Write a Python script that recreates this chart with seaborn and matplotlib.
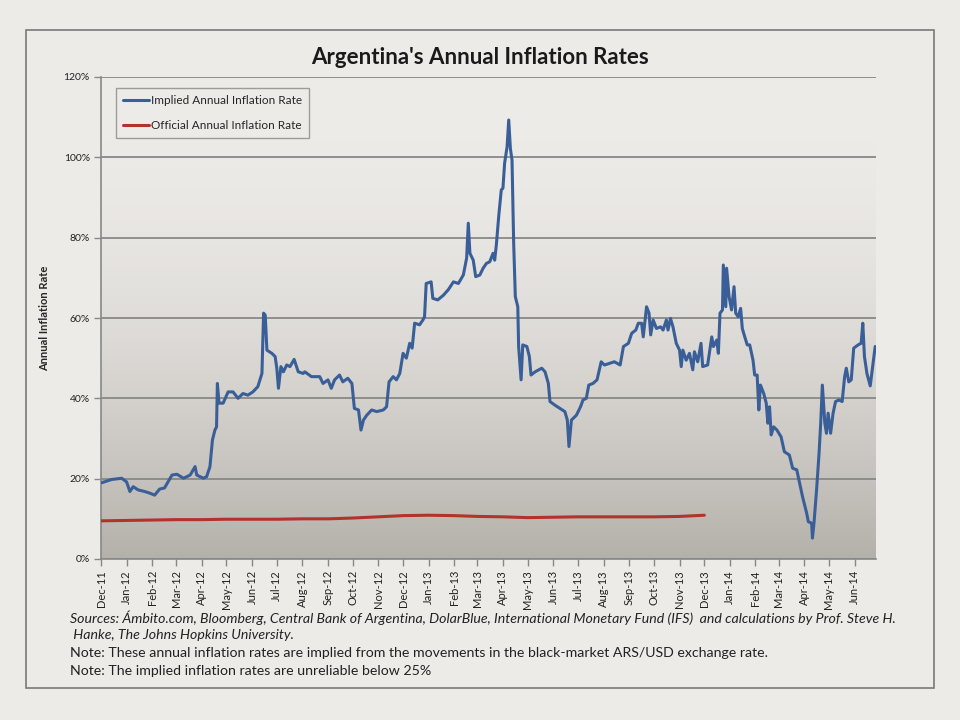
# Argentina's annual inflation rates: implied (black-market FX) vs official

import numpy as np
import pandas as pd
import seaborn as sns
import matplotlib.pyplot as plt
import matplotlib.dates as mdates
from matplotlib.patches import Rectangle

# Implied annual inflation rate (%)
implied_dates = [
    '2011-12-02', '2011-12-14', '2011-12-26', '2012-01-01', '2012-01-05', '2012-01-09',
    '2012-01-15', '2012-01-23', '2012-01-29', '2012-02-04', '2012-02-10', '2012-02-16',
    '2012-02-25', '2012-03-02', '2012-03-10', '2012-03-18', '2012-03-24', '2012-03-26',
    '2012-04-03', '2012-04-07', '2012-04-11', '2012-04-14', '2012-04-17', '2012-04-19',
    '2012-04-20', '2012-04-22', '2012-04-27', '2012-05-03', '2012-05-09', '2012-05-15',
    '2012-05-21', '2012-05-27', '2012-06-02', '2012-06-08', '2012-06-13', '2012-06-15',
    '2012-06-17', '2012-06-19', '2012-06-25', '2012-06-29', '2012-07-01', '2012-07-03',
    '2012-07-06', '2012-07-09', '2012-07-13', '2012-07-17', '2012-07-22', '2012-07-27',
    '2012-08-02', '2012-08-04', '2012-08-12', '2012-08-22', '2012-08-26', '2012-09-01',
    '2012-09-05', '2012-09-09', '2012-09-15', '2012-09-19', '2012-09-25', '2012-09-30',
    '2012-10-03', '2012-10-08', '2012-10-11', '2012-10-14', '2012-10-18', '2012-10-24',
    '2012-10-30', '2012-11-07', '2012-11-11', '2012-11-14', '2012-11-19', '2012-11-23',
    '2012-11-27', '2012-12-01', '2012-12-05', '2012-12-09', '2012-12-12', '2012-12-15',
    '2012-12-21', '2012-12-25', '2012-12-27', '2012-12-29', '2013-01-04', '2013-01-06',
    '2013-01-12', '2013-01-19', '2013-01-25', '2013-01-31', '2013-02-06', '2013-02-12',
    '2013-02-16', '2013-02-18', '2013-02-20', '2013-02-24', '2013-02-27', '2013-03-04',
    '2013-03-08', '2013-03-12', '2013-03-16', '2013-03-20', '2013-03-22', '2013-03-24',
    '2013-03-27', '2013-03-30', '2013-04-01', '2013-04-03', '2013-04-06', '2013-04-08',
    '2013-04-10', '2013-04-12', '2013-04-14', '2013-04-16', '2013-04-19', '2013-04-20',
    '2013-04-23', '2013-04-25', '2013-04-30', '2013-05-03', '2013-05-05', '2013-05-10',
    '2013-05-18', '2013-05-22', '2013-05-26', '2013-05-28', '2013-06-03', '2013-06-09',
    '2013-06-15', '2013-06-18', '2013-06-20', '2013-06-23', '2013-06-29', '2013-07-04',
    '2013-07-07', '2013-07-11', '2013-07-14', '2013-07-19', '2013-07-24', '2013-07-29',
    '2013-08-02', '2013-08-08', '2013-08-14', '2013-08-21', '2013-08-25', '2013-08-31',
    '2013-09-04', '2013-09-09', '2013-09-12', '2013-09-16', '2013-09-18', '2013-09-22',
    '2013-09-25', '2013-09-27', '2013-09-30', '2013-10-04', '2013-10-09', '2013-10-12',
    '2013-10-16', '2013-10-18', '2013-10-21', '2013-10-24', '2013-10-28', '2013-11-01',
    '2013-11-03', '2013-11-05', '2013-11-09', '2013-11-13', '2013-11-17', '2013-11-19',
    '2013-11-23', '2013-11-27', '2013-11-29', '2013-12-05', '2013-12-10', '2013-12-12',
    '2013-12-16', '2013-12-18', '2013-12-20', '2013-12-23', '2013-12-24', '2013-12-27',
    '2013-12-28', '2013-12-31', '2014-01-03', '2014-01-06', '2014-01-08', '2014-01-11',
    '2014-01-14', '2014-01-16', '2014-01-19', '2014-01-22', '2014-01-25', '2014-01-29',
    '2014-01-31', '2014-02-03', '2014-02-05', '2014-02-07', '2014-02-11', '2014-02-14',
    '2014-02-16', '2014-02-18', '2014-02-20', '2014-02-23', '2014-02-27', '2014-03-04',
    '2014-03-08', '2014-03-14', '2014-03-18', '2014-03-23', '2014-03-27', '2014-03-30',
    '2014-04-04', '2014-04-06', '2014-04-10', '2014-04-11', '2014-04-13', '2014-04-16',
    '2014-04-19', '2014-04-21', '2014-04-23', '2014-04-26', '2014-04-28', '2014-04-30',
    '2014-05-03', '2014-05-06', '2014-05-09', '2014-05-13', '2014-05-17', '2014-05-20',
    '2014-05-22', '2014-05-25', '2014-05-28', '2014-05-31', '2014-06-06', '2014-06-09',
    '2014-06-11', '2014-06-13', '2014-06-16', '2014-06-20', '2014-06-23', '2014-06-26',
]
implied_rate = [
    19.0, 19.8, 20.1, 19.2, 16.8, 18.0,
    17.2, 16.8, 16.4, 15.9, 17.4, 17.7,
    20.9, 21.1, 20.1, 20.9, 23.0, 20.9,
    20.1, 20.5, 23.0, 29.6, 32.1, 32.9,
    43.7, 38.8, 38.8, 41.6, 41.6, 40.0,
    41.2, 40.8, 41.6, 42.9, 46.2, 61.2,
    60.7, 52.0, 51.2, 50.4, 47.5, 42.5,
    47.9, 46.6, 48.3, 47.9, 49.7, 46.6,
    46.2, 46.6, 45.4, 45.4, 43.7, 44.6,
    42.5, 44.6, 45.8, 44.1, 45.0, 43.7,
    37.5, 37.1, 32.1, 34.6, 35.8, 37.1,
    36.7, 37.1, 37.9, 44.1, 45.4, 44.6,
    46.2, 51.2, 50.0, 53.7, 52.5, 58.7,
    58.3, 59.5, 60.3, 68.6, 69.0, 64.9,
    64.5, 65.7, 67.1, 69.0, 68.6, 70.7,
    74.9, 83.6, 76.1, 74.4, 70.3, 70.7,
    72.4, 73.6, 74.0, 76.1, 74.4, 78.2,
    85.6, 91.9, 92.3, 98.5, 102.6, 109.3,
    102.2, 99.3, 78.6, 65.3, 62.8, 52.9,
    44.6, 53.3, 52.9, 50.4, 45.8, 46.6,
    47.5, 46.6, 43.7, 39.2, 38.3, 37.5,
    36.7, 34.6, 28.0, 34.6, 35.8, 37.9,
    39.6, 40.0, 43.3, 43.7, 44.6, 49.1,
    48.3, 48.7, 49.1, 48.3, 52.9, 53.7,
    56.2, 57.0, 58.7, 58.7, 55.3, 62.8,
    61.2, 55.8, 59.5, 57.4, 57.8, 57.0,
    59.5, 57.0, 59.9, 57.8, 53.7, 52.0,
    47.9, 52.0, 49.5, 51.2, 47.1, 51.6,
    49.1, 53.7, 47.9, 48.3, 55.3, 52.9,
    54.5, 51.2, 61.2, 62.0, 73.2, 62.8,
    72.4, 65.3, 62.0, 67.8, 61.2, 60.3,
    62.4, 57.4, 55.3, 53.3, 53.3, 49.5,
    45.8, 45.8, 37.1, 43.3, 41.2, 38.8,
    33.8, 37.9, 30.9, 32.9, 32.1, 30.4,
    26.7, 25.9, 22.6, 22.2, 18.4, 15.5,
    11.4, 9.3, 8.9, 5.2, 9.3, 17.2,
    26.3, 33.8, 43.3, 33.8, 31.3, 36.3,
    31.3, 36.3, 39.2, 39.6, 39.2, 45.4,
    47.5, 44.1, 44.6, 52.5, 53.4, 53.7,
    58.7, 50.4, 46.2, 43.1, 47.9, 52.9,
]

# Official annual inflation rate (%), monthly
official_dates = pd.date_range('2011-12-01', '2013-12-01', freq='MS')
official_rate = [9.5, 9.6, 9.7, 9.8, 9.8, 9.9, 9.9, 9.9, 10.0, 10.0, 10.2, 10.5, 10.8,
                 10.9, 10.8, 10.6, 10.5, 10.3, 10.4, 10.5, 10.5, 10.5, 10.5, 10.6, 10.9]

y_ticks = [0, 20, 40, 60, 80, 100, 120]

title = "Argentina's Annual Inflation Rates"
notes_italic = ["Sources: Ámbito.com, Bloomberg, Central Bank of Argentina, DolarBlue, International Monetary Fund (IFS)  and calculations by Prof. Steve H.",
                " Hanke, The Johns Hopkins University."]
notes = ["Note: These annual inflation rates are implied from the movements in the black-market ARS/USD exchange rate.",
         "Note: The implied inflation rates are unreliable below 25%"]

implied_df = pd.DataFrame({'Date': pd.to_datetime(implied_dates), 'Rate': implied_rate})
official_df = pd.DataFrame({'Date': official_dates, 'Rate': official_rate})

sns.set_theme(style='white')
plt.rcParams['font.family'] = ['Lato', 'DejaVu Sans']

bg = '#ecebe8'
fig = plt.figure(figsize=(9.6, 7.2), dpi=100, facecolor=bg)
# outer chart border
fig.patches.append(Rectangle((26 / 960, 1 - 688 / 720), 908 / 960, 658 / 720,
                             transform=fig.transFigure, fill=False,
                             edgecolor='#7a7a7a', linewidth=1.2))

ax = fig.add_axes([101 / 960, 1 - 559 / 720, 775 / 960, 482 / 720])
ax.set_facecolor(bg)

# vertical gradient in the plot area
t = np.linspace(0, 1, 256) ** 2.0
top = np.array([238, 236, 233]) / 255
bottom = np.array([180, 176, 170]) / 255
grad = (top[None, :] * (1 - t[:, None]) + bottom[None, :] * t[:, None])[:, None, :]
ax.imshow(grad, aspect='auto', extent=(0, 1, 0, 1), transform=ax.transAxes, zorder=0)

sns.lineplot(data=implied_df, x='Date', y='Rate', ax=ax, color='#3a5f98', linewidth=2.2,
             label='Implied Annual Inflation Rate', zorder=3)
sns.lineplot(data=official_df, x='Date', y='Rate', ax=ax, color='#b3322b', linewidth=2.2,
             label='Official Annual Inflation Rate', zorder=3)

ax.set_xlim(pd.Timestamp('2011-12-01'), pd.Timestamp('2014-06-27'))
ax.set_ylim(0, 120)
ax.set_yticks(y_ticks)
ax.set_yticklabels([f'{v}%' for v in y_ticks], fontsize=7.5, color='#222222')
ax.yaxis.grid(True, color='#888888', linewidth=1.3)
for line in ax.get_ygridlines():
    line.set_zorder(1)

ax.xaxis.set_major_locator(mdates.MonthLocator())
ax.xaxis.set_major_formatter(mdates.DateFormatter('%b-%y'))
plt.setp(ax.get_xticklabels(), rotation=90, fontsize=8, color='#222222')

ax.tick_params(axis='both', which='major', direction='out', length=5, width=1, color='#888888',
               left=True, bottom=True, pad=3)
for side in ['top', 'right']:
    ax.spines[side].set_visible(False)
for side in ['left', 'bottom']:
    ax.spines[side].set_color('#888888')
    ax.spines[side].set_linewidth(1.2)

ax.set_xlabel('')
ax.set_ylabel('Annual Inflation Rate', fontsize=8, fontweight='bold', labelpad=10)

leg = ax.legend(loc='upper left', bbox_to_anchor=(0.019, 0.977), borderaxespad=0,
                fontsize=8.5, frameon=True, fancybox=False, handlelength=2.2,
                handletextpad=0.2, labelspacing=1.2, borderpad=0.6)
leg.get_frame().set_facecolor('none')
leg.get_frame().set_edgecolor('#888888')
leg.get_frame().set_linewidth(1.0)

fig.text(0.5, 1 - 57 / 720, title, ha='center', va='center', fontsize=16, fontweight='bold',
         color='#1a1a1a')

fig.text(70 / 960, 1 - 618 / 720, notes_italic[0], fontsize=10.2, style='italic', va='center', color='#222222')
fig.text(70 / 960, 1 - 635 / 720, notes_italic[1], fontsize=10.2, style='italic', va='center', color='#222222')
fig.text(70 / 960, 1 - 653 / 720, notes[0], fontsize=10.2, va='center', color='#222222')
fig.text(70 / 960, 1 - 671 / 720, notes[1], fontsize=10.2, va='center', color='#222222')

fig.savefig('out.png', dpi=100, facecolor=bg)
